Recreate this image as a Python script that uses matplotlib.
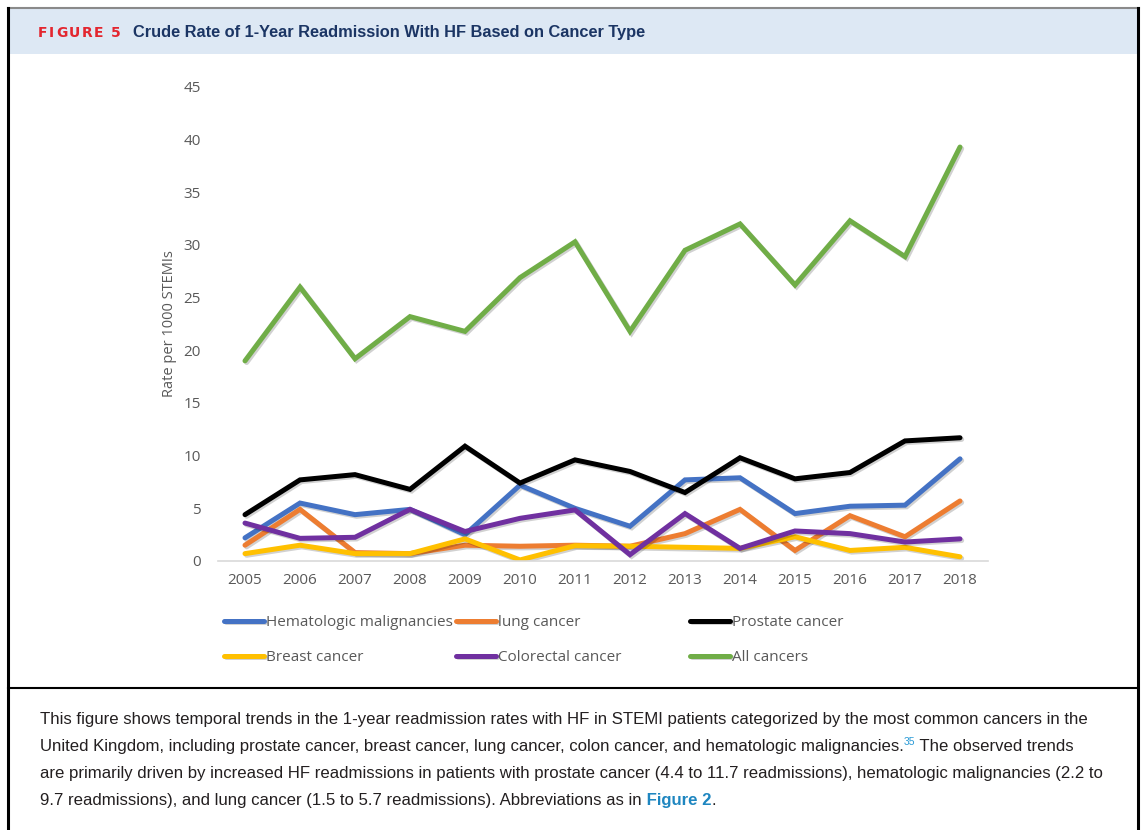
import matplotlib
matplotlib.use('Agg')
import matplotlib.pyplot as plt
import matplotlib.patheffects as pe
from matplotlib import font_manager
from matplotlib.lines import Line2D
from matplotlib.patches import Rectangle

W, H = 1142, 830

years = list(range(2005, 2019))
hematologic = [2.2, 5.5, 4.4, 4.9, 2.5, 7.2, 5.0, 3.3, 7.7, 7.9, 4.5, 5.2, 5.3, 9.7]
lung = [1.5, 4.9, 0.8, 0.7, 1.5, 1.4, 1.5, 1.4, 2.6, 4.9, 1.0, 4.3, 2.3, 5.7]
prostate = [4.4, 7.7, 8.2, 6.8, 10.9, 7.4, 9.6, 8.5, 6.5, 9.8, 7.8, 8.4, 11.4, 11.7]
breast = [0.7, 1.5, 0.7, 0.7, 2.1, 0.1, 1.45, 1.4, 1.3, 1.2, 2.3, 1.0, 1.3, 0.4]
colorectal = [3.6, 2.15, 2.25, 4.9, 2.8, 4.05, 4.85, 0.6, 4.5, 1.2, 2.85, 2.6, 1.8, 2.1]
all_cancers = [19.0, 26.0, 19.2, 23.2, 21.8, 26.9, 30.3, 21.8, 29.5, 32.0, 26.2, 32.3, 28.9, 39.3]

series = [hematologic, lung, prostate, breast, colorectal, all_cancers]
series_names = ['Hematologic malignancies', 'lung cancer', 'Prostate cancer',
                'Breast cancer', 'Colorectal cancer', 'All cancers']
series_colors = ['#4472C4', '#ED7D31', '#000000', '#FFC000', '#7030A0', '#70AD47']
y_ticks = list(range(0, 50, 5))

caption_lines = [
    [('This figure shows temporal trends in the 1-year readmission rates with HF in STEMI '
      'patients categorized by the most common cancers in the', 'plain')],
    [('United Kingdom, including prostate cancer, breast cancer, lung cancer, colon cancer, '
      'and hematologic malignancies.', 'plain'), ('35', 'sup'), (' The observed trends', 'plain')],
    [('are primarily driven by increased HF readmissions in patients with prostate cancer '
      '(4.4 to 11.7 readmissions), hematologic malignancies (2.2 to', 'plain')],
    [('9.7 readmissions), and lung cancer (1.5 to 5.7 readmissions). Abbreviations as in', 'plain'),
     (' Figure 2', 'link'), ('.', 'plain')],
]

installed = {f.name for f in font_manager.fontManager.ttflist}
NARROW = 'Liberation Sans Narrow' if 'Liberation Sans Narrow' in installed else 'Liberation Sans'


def fx(px):
    return px / W


def fy(py):
    return 1 - py / H


plt.rcParams['font.family'] = ['Open Sans', 'DejaVu Sans']

fig = plt.figure(figsize=(W / 100, H / 100), dpi=100)
fig.patch.set_facecolor('white')
renderer = fig.canvas.get_renderer()

# frame and header band
fig.add_artist(Rectangle((fx(9), fy(54)), fx(1137) - fx(9), fy(9) - fy(54),
                         transform=fig.transFigure, facecolor='#dde8f4', edgecolor='none'))
fig.add_artist(Line2D([fx(8), fx(1139)], [fy(8), fy(8)], transform=fig.transFigure,
                      color='#8a8a8a', lw=1.5))
fig.add_artist(Line2D([fx(8), fx(8)], [fy(8), 0], transform=fig.transFigure,
                      color='black', lw=2.2))
fig.add_artist(Line2D([fx(1138), fx(1138)], [fy(8), 0], transform=fig.transFigure,
                      color='black', lw=2.2))
fig.add_artist(Line2D([fx(8), fx(1138)], [fy(688), fy(688)], transform=fig.transFigure,
                      color='black', lw=1.5))


def fit_size(text, family, weight, target_px, base=10):
    t = fig.text(0, 0, text, fontsize=base, family=family, fontweight=weight)
    w = t.get_window_extent(renderer).width
    t.remove()
    return base * target_px / w


# title: letter-spaced "FIGURE 5"
x = 38
for ch in 'FIGURE 5':
    t = fig.text(fx(x), fy(33), ch, color='#e3262f', fontweight='bold', fontsize=10,
                 family=['DejaVu Sans'], va='center')
    x += (t.get_window_extent(renderer).width if ch != ' ' else 4) + 1.6
title = 'Crude Rate of 1-Year Readmission With HF Based on Cancer Type'
tsize = fit_size(title, [NARROW, 'DejaVu Sans'], 'bold', 513)
fig.text(fx(133), fy(33), title, color='#1b3564', fontweight='bold', fontsize=tsize,
         family=[NARROW, 'DejaVu Sans'], va='center')

# chart
ax = fig.add_axes([fx(217.5), fy(561), fx(987.5) - fx(217.5), fy(87) - fy(561)])
handles = []
for vals, name, color in zip(series, series_names, series_colors):
    line, = ax.plot(years, vals, color=color, lw=3.6, label=name,
                    solid_capstyle='round', solid_joinstyle='miter',
                    path_effects=[pe.SimpleLineShadow(offset=(1.2, -1.2), alpha=0.18),
                                  pe.Normal()])
    handles.append(line)

ax.set_xlim(2004.5, 2018.5)
ax.set_ylim(0, 45)
ax.set_xticks(years)
ax.set_yticks(y_ticks)
for s in ['top', 'right', 'left']:
    ax.spines[s].set_visible(False)
ax.spines['bottom'].set_color('#d9d9d9')
ax.spines['bottom'].set_linewidth(1.2)
ax.tick_params(length=0, labelsize=11, colors='#595959')
ax.tick_params(axis='y', pad=12)
ax.tick_params(axis='x', pad=9)
ax.set_ylabel('Rate per 1000 STEMIs', fontsize=10.5, color='#595959')
ax.yaxis.set_label_coords(-0.053, 0.5)

# legend: three columns
col_x = [224, 456, 690]
for i, x in enumerate(col_x):
    fig.legend(handles=[handles[i], handles[i + 3]], loc='center left',
               bbox_to_anchor=(fx(x), fy(640)), frameon=False, fontsize=11,
               handlelength=2.6, handletextpad=0.15, labelspacing=1.3,
               borderpad=0, borderaxespad=0, labelcolor='#595959')

# caption
cfam = [NARROW, 'DejaVu Sans']
csize = min(fit_size(caption_lines[0][0][0], cfam, 'normal', 1057),
            fit_size(caption_lines[2][0][0], cfam, 'normal', 1059))
for row, runs in enumerate(caption_lines):
    x = 40
    y = 724 + row * 27
    for text, kind in runs:
        kw = dict(family=cfam, fontsize=csize, color='#231f20', va='baseline')
        yy = y
        if kind == 'sup':
            kw.update(fontsize=csize * 0.62, color='#2a9ad6')
            yy = y - 6
        elif kind == 'link':
            kw.update(fontweight='bold', color='#1e86c0')
        t = fig.text(fx(x), fy(yy), text, **kw)
        x += t.get_window_extent(renderer).width

fig.savefig('out.png', dpi=100)
